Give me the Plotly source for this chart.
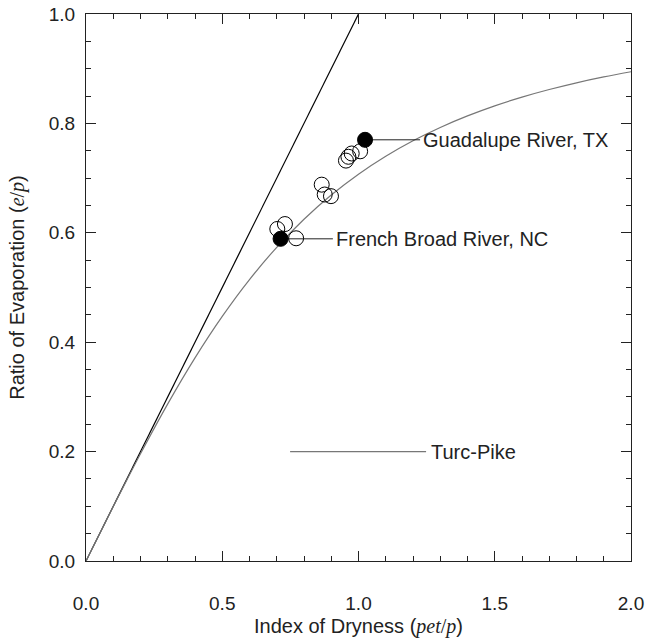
import plotly.graph_objects as go

# Turc-Pike curve values (e/p vs pet/p)
tp_x = [0, 0.05, 0.1, 0.15, 0.2, 0.3, 0.4, 0.5, 0.6, 0.7, 0.8, 0.9, 1.0,
        1.1, 1.2, 1.3, 1.4, 1.5, 1.6, 1.7, 1.8, 1.9, 2.0]
tp_y = [0, 0.0499, 0.0995, 0.1483, 0.1961, 0.2873, 0.3714, 0.4472, 0.5145,
        0.5735, 0.6247, 0.6690, 0.7071, 0.7399, 0.7682, 0.7926, 0.8137,
        0.8321, 0.8480, 0.8619, 0.8742, 0.8849, 0.8944]

# 1:1 line
one_x = [0, 1]
one_y = [0, 1]

# Basins (open circles)
open_x = [1.006, 0.975, 0.963, 0.954, 0.865, 0.876, 0.899, 0.702, 0.730, 0.771]
open_y = [0.749, 0.745, 0.739, 0.732, 0.688, 0.670, 0.667, 0.607, 0.616, 0.590]

# Highlighted basins
hl_names = ["Guadalupe River, TX", "French Broad River, NC"]
hl_x = [1.024, 0.714]
hl_y = [0.770, 0.589]
hl_label_x = [1.226, 0.906]

legend_x = [0.749, 1.248]
legend_y = [0.2, 0.2]

FONT = "Liberation Sans, Arial, sans-serif"
fig = go.Figure()
fig.add_trace(go.Scatter(x=one_x, y=one_y, mode="lines",
                         line=dict(color="black", width=1.2), hoverinfo="skip"))
fig.add_trace(go.Scatter(x=tp_x, y=tp_y, mode="lines", line_shape="spline",
                         line=dict(color="#777777", width=1.2)))
fig.add_trace(go.Scatter(x=legend_x, y=legend_y, mode="lines",
                         line=dict(color="#777777", width=1.2)))
for i in range(len(hl_x)):
    fig.add_trace(go.Scatter(x=[hl_x[i], hl_label_x[i]], y=[hl_y[i], hl_y[i]],
                             mode="lines", line=dict(color="#222222", width=1)))
fig.add_trace(go.Scatter(x=open_x, y=open_y, mode="markers",
                         marker=dict(size=15, color="rgba(255,255,255,0)",
                                     line=dict(color="black", width=1))))
fig.add_trace(go.Scatter(x=hl_x, y=hl_y, mode="markers",
                         marker=dict(size=15, color="black",
                                     line=dict(color="black", width=1))))

for i in range(len(hl_x)):
    fig.add_annotation(x=hl_label_x[i], y=hl_y[i], text=hl_names[i],
                       xanchor="left", yanchor="middle", showarrow=False,
                       xshift=1, font=dict(family=FONT, size=20, color="#222"))
fig.add_annotation(x=legend_x[1], y=legend_y[1], text="Turc-Pike",
                   xanchor="left", yanchor="middle", showarrow=False, xshift=3,
                   font=dict(family=FONT, size=20, color="#222"))

serif = "font-family:'Liberation Serif', 'Times New Roman', serif"
fig.update_layout(
    width=647, height=642,
    margin=dict(l=86, r=16, t=14, b=81),
    plot_bgcolor="white", paper_bgcolor="white",
    showlegend=False,
    font=dict(family=FONT, size=19, color="#222"),
    xaxis=dict(range=[0, 2], dtick=0.5, tick0=0, tickformat=".1f",
               ticks="inside", ticklen=10, tickcolor="#222", tickwidth=1,
               minor=dict(dtick=0.1, ticks="inside", ticklen=5, tickcolor="#222"),
               showline=True, linecolor="#222", linewidth=1, mirror="allticks",
               showgrid=False, zeroline=False, ticklabelstandoff=25,
               automargin=False,
               title=dict(text=f"Index of Dryness (<span style=\"{serif}\"><i>pet</i>/<i>p</i></span>)",
                          font=dict(size=20), standoff=6)),
    yaxis=dict(range=[0, 1], dtick=0.2, tick0=0, tickformat=".1f",
               ticks="inside", ticklen=10, tickcolor="#222", tickwidth=1,
               minor=dict(dtick=0.05, ticks="inside", ticklen=5, tickcolor="#222"),
               showline=True, linecolor="#222", linewidth=1, mirror="allticks",
               showgrid=False, zeroline=False, ticklabelstandoff=6,
               automargin=False,
               title=dict(text=f"Ratio of Evaporation (<span style=\"{serif}\"><i>e</i>/<i>p</i></span>)",
                          font=dict(size=20), standoff=18)),
)
fig.write_html("out.html")
